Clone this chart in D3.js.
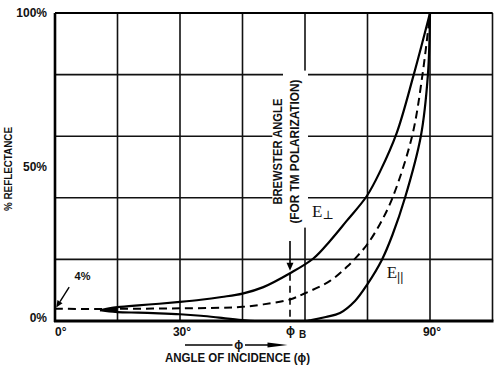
<!DOCTYPE html>
<html>
<head>
<meta charset="utf-8">
<script src="https://cdn.jsdelivr.net/npm/d3@7"></script>
<style>
  html, body { margin: 0; padding: 0; background: #fff; }
  svg { display: block; }
</style>
</head>
<body>
<svg id="chart" width="500" height="370"></svg>
<script>
// ---------------- data ----------------
// E-perpendicular (TE) reflectance, angle in degrees, % reflectance
const perpAngle = [10.8, 13, 15, 20, 25, 30, 35, 40, 45, 50, 56.4, 62, 66, 70, 74.8, 78, 82, 86, 90];
const perpPct   = [3.5, 4.1, 4.5, 5.1, 5.6, 6.2, 6.9, 7.8, 8.9, 11, 15.5, 20.3, 26, 32.5, 40.5, 48.5, 61, 79.5, 100];

// average (dashed)
const avgAngle = [0, 10, 20, 30, 40, 45, 50, 56.4, 60, 66, 70, 72.4, 75, 78, 81, 85.7, 88.2, 90];
const avgPct   = [4.0, 3.9, 4.0, 4.1, 4.3, 4.6, 5.4, 7.0, 9, 13, 17.5, 20.8, 25, 31.5, 40, 60, 80, 100];

// E-parallel (TM) reflectance
const parAngle = [10.8, 13, 15, 20, 25, 30, 35, 40, 45.5, 48, 60, 61.5, 65, 68.4, 72, 75, 78.5, 81, 84, 87.8, 89.5, 90];
const parPct   = [3.5, 3.1, 2.9, 2.7, 2.5, 2.2, 1.7, 1.0, 0.2, 0, 0, 0.3, 1.3, 2.6, 6.5, 12, 20, 28, 40, 60, 80, 100];

// grid / ticks
const xGrid = [0, 15, 30, 45, 60, 75, 90, 105];
const yGrid = [0, 20, 40, 60, 80, 100];
const xTickVals = [0, 30, 90];
const xTickLabels = ["0°", "30°", "90°"];
const yTickVals = [0, 50, 100];
const yTickLabels = ["0%", "50%", "100%"];

// annotations
const brewsterAngle = 56.4;
const brewsterArrow = [26, 16];       // % from, % to
const brewsterLines = ["BREWSTER ANGLE", "(FOR TM POLARIZATION)"];
const phiArrow = [31.2, 42.6, 45.6, 55.8]; // start, gap start, gap end, end (degrees)
const fourPctLabel = "4%";
const fourPctArrow = [[3.4, 11], [0.3, 4.4]];

// ---------------- drawing ----------------
const svg = d3.select("#chart");
const x = d3.scaleLinear().domain([0, 105]).range([55, 492.5]);
const y = d3.scaleLinear().domain([0, 100]).range([321, 13]);
const sans = "'Liberation Sans', Arial, 'DejaVu Sans', sans-serif";
const serif = "'Liberation Serif', 'DejaVu Serif', serif";

svg.append("defs").append("clipPath").attr("id", "plot")
  .append("rect").attr("x", x(0)).attr("y", y(100) - 2).attr("width", x(105) - x(0)).attr("height", y(0) - y(100) + 2);

// grid
svg.append("g").selectAll("line.v").data(xGrid).join("line")
  .attr("x1", d => x(d)).attr("x2", d => x(d))
  .attr("y1", y(0)).attr("y2", y(100))
  .attr("stroke", "#111").attr("stroke-width", 1.6);
svg.append("g").selectAll("line.h").data(yGrid).join("line")
  .attr("x1", x(0)).attr("x2", x(105))
  .attr("y1", d => y(d)).attr("y2", d => y(d))
  .attr("stroke", "#111").attr("stroke-width", 1.6);

// axes (thicker left & bottom, top border)
svg.append("line").attr("x1", x(0)).attr("x2", x(0)).attr("y1", y(0) + 1).attr("y2", y(100))
  .attr("stroke", "#000").attr("stroke-width", 2.6);
svg.append("line").attr("x1", x(0) - 1).attr("x2", x(105) + 1).attr("y1", y(0)).attr("y2", y(0))
  .attr("stroke", "#000").attr("stroke-width", 2.8);
svg.append("line").attr("x1", x(0)).attr("x2", x(105)).attr("y1", y(100)).attr("y2", y(100))
  .attr("stroke", "#000").attr("stroke-width", 2.2);

// Brewster label (with white knock-out behind it)
const bCy = y(55);
const bx1 = x(53.6), bx2 = x(57.6);
svg.append("rect").attr("x", bx1 - 6).attr("y", bCy - 57).attr("width", 12).attr("height", 114).attr("fill", "#fff");
svg.append("rect").attr("x", bx2 - 12).attr("y", bCy - 81).attr("width", 25).attr("height", 157).attr("fill", "#fff");
[[bx1, brewsterLines[0], 106], [bx2, brewsterLines[1], 144]].forEach(([cx, t, len]) => {
  svg.append("text")
    .attr("transform", `translate(${cx},${bCy}) rotate(-90)`)
    .attr("text-anchor", "middle").attr("dominant-baseline", "central")
    .attr("font-family", sans).attr("font-weight", "bold").attr("font-size", 12.5)
    .attr("textLength", len).attr("lengthAdjust", "spacingAndGlyphs")
    .attr("fill", "#111").text(t);
});

// curves
const line = d3.line().x(d => x(d[0])).y(d => y(d[1])).curve(d3.curveCatmullRom.alpha(0.5));
const perp = perpAngle.map((a, i) => [a, perpPct[i]]);
const avg = avgAngle.map((a, i) => [a, avgPct[i]]);
const par = parAngle.map((a, i) => [a, parPct[i]]);

const curves = svg.append("g").attr("clip-path", "url(#plot)");

// filled wedge near the left tip
const wedgeN = 3;
const wedge = d3.area().x(d => x(d[0])).y0((d, i) => y(par[i][1])).y1(d => y(d[1])).curve(d3.curveMonotoneX);
curves.append("path").attr("d", wedge(perp.slice(0, wedgeN))).attr("fill", "#000");

curves.append("path").attr("d", line(perp)).attr("fill", "none").attr("stroke", "#000").attr("stroke-width", 2.2);
curves.append("path").attr("d", line(par)).attr("fill", "none").attr("stroke", "#000").attr("stroke-width", 2.2);
curves.append("path").attr("d", line(avg)).attr("fill", "none").attr("stroke", "#000").attr("stroke-width", 2)
  .attr("stroke-dasharray", "8,5");

// Brewster arrow + dashed drop line
const bX = x(brewsterAngle);
svg.append("line").attr("x1", bX).attr("x2", bX).attr("y1", y(brewsterArrow[0])).attr("y2", y(brewsterArrow[1]) - 6)
  .attr("stroke", "#000").attr("stroke-width", 1.6);
svg.append("path")
  .attr("d", `M${bX - 3.5},${y(brewsterArrow[1]) - 9} L${bX + 3.5},${y(brewsterArrow[1]) - 9} L${bX},${y(brewsterArrow[1]) - 1} Z`)
  .attr("fill", "#000");
svg.append("line").attr("x1", bX).attr("x2", bX).attr("y1", y(brewsterArrow[1]) + 2).attr("y2", y(0))
  .attr("stroke", "#000").attr("stroke-width", 1.6).attr("stroke-dasharray", "7,5");

// E labels
const eperp = svg.append("text").attr("x", x(61.7)).attr("y", y(33.7))
  .attr("font-family", serif).attr("font-size", 17).attr("fill", "#111");
eperp.append("tspan").text("E");
eperp.append("tspan").attr("font-size", 12).attr("dy", 2).text("⊥");
const epar = svg.append("text").attr("x", x(79.6)).attr("y", y(14))
  .attr("font-family", serif).attr("font-size", 17).attr("fill", "#111");
epar.append("tspan").text("E");
epar.append("tspan").attr("font-size", 12).attr("dy", 3).attr("font-family", sans).text("||");

// tick labels
svg.append("g").selectAll("text").data(xTickVals).join("text")
  .attr("x", (d, i) => i === 0 ? x(d) : x(d) + 2)
  .attr("y", 336)
  .attr("text-anchor", (d, i) => i === 0 ? "start" : "middle")
  .attr("font-family", sans).attr("font-weight", "bold").attr("font-size", 12).attr("fill", "#111")
  .text((d, i) => xTickLabels[i]);
svg.append("g").selectAll("text").data(yTickVals).join("text")
  .attr("x", 47)
  .attr("y", d => d === 0 ? y(d) - 3 : y(d))
  .attr("dominant-baseline", "central")
  .attr("text-anchor", "end")
  .attr("font-family", sans).attr("font-weight", "bold").attr("font-size", 12).attr("fill", "#111")
  .text((d, i) => yTickLabels[i]);

// phi_B label
const pb = svg.append("text").attr("x", x(brewsterAngle) - 4).attr("y", 335)
  .attr("font-family", sans).attr("font-weight", "bold").attr("font-size", 12).attr("fill", "#111");
pb.append("tspan").text("ϕ");
pb.append("tspan").attr("dx", 4).attr("dy", 3).attr("font-size", 10).text("B");

// phi arrow under axis
const ay = 345;
svg.append("line").attr("x1", x(phiArrow[0])).attr("x2", x(phiArrow[1])).attr("y1", ay).attr("y2", ay)
  .attr("stroke", "#000").attr("stroke-width", 1.6);
svg.append("line").attr("x1", x(phiArrow[2])).attr("x2", x(phiArrow[3]) - 10).attr("y1", ay).attr("y2", ay)
  .attr("stroke", "#000").attr("stroke-width", 1.6);
svg.append("path")
  .attr("d", `M${x(phiArrow[3]) - 20},${ay - 2.5} L${x(phiArrow[3])},${ay} L${x(phiArrow[3]) - 20},${ay + 2.5} Z`)
  .attr("fill", "#000");
svg.append("text").attr("x", (x(phiArrow[1]) + x(phiArrow[2])) / 2).attr("y", ay)
  .attr("text-anchor", "middle").attr("dominant-baseline", "central")
  .attr("font-family", sans).attr("font-weight", "bold").attr("font-size", 12).attr("fill", "#111")
  .text("ϕ");

// axis titles
svg.append("text").attr("x", 237.5).attr("y", 358).attr("text-anchor", "middle").attr("dominant-baseline", "central")
  .attr("font-family", sans).attr("font-weight", "bold").attr("font-size", 12.5).attr("fill", "#111")
  .attr("textLength", 145).attr("lengthAdjust", "spacingAndGlyphs")
  .text("ANGLE OF INCIDENCE (ϕ)");
svg.append("text").attr("transform", "translate(8,169) rotate(-90)")
  .attr("text-anchor", "middle").attr("dominant-baseline", "central")
  .attr("font-family", sans).attr("font-weight", "bold").attr("font-size", 11.5).attr("fill", "#111")
  .attr("textLength", 84).attr("lengthAdjust", "spacingAndGlyphs")
  .text("% REFLECTANCE");

// 4% annotation
svg.append("text").attr("x", x(6.6)).attr("y", y(14.5)).attr("text-anchor", "middle").attr("dominant-baseline", "central")
  .attr("font-family", sans).attr("font-weight", "bold").attr("font-size", 11).attr("fill", "#111")
  .text(fourPctLabel);
{
  const [p0, p1] = fourPctArrow;
  const X0 = x(p0[0]), Y0 = y(p0[1]), X1 = x(p1[0]), Y1 = y(p1[1]);
  const ang = Math.atan2(Y1 - Y0, X1 - X0);
  const hl = 7, hw = 3;
  const bxh = X1 - hl * Math.cos(ang), byh = Y1 - hl * Math.sin(ang);
  svg.append("line").attr("x1", X0).attr("y1", Y0).attr("x2", bxh).attr("y2", byh)
    .attr("stroke", "#000").attr("stroke-width", 1.4);
  svg.append("path").attr("d",
    `M${X1},${Y1} L${bxh + hw * Math.sin(ang)},${byh - hw * Math.cos(ang)} L${bxh - hw * Math.sin(ang)},${byh + hw * Math.cos(ang)} Z`)
    .attr("fill", "#000");
}
</script>
</body>
</html>
